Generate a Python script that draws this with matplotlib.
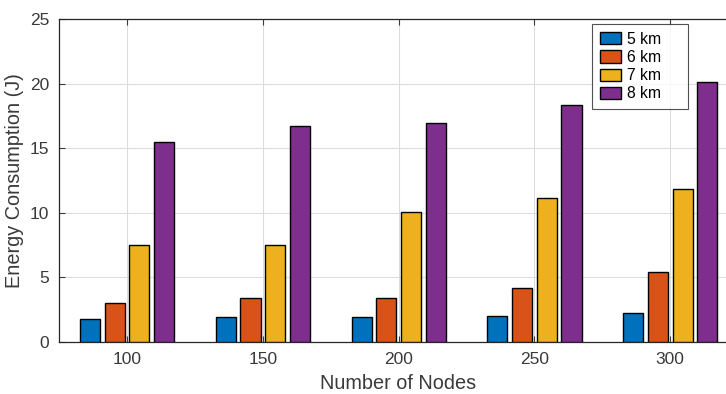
import numpy as np
import matplotlib
matplotlib.use("Agg")
import matplotlib.pyplot as plt

# Bar chart data
nodes = ["100", "150", "200", "250", "300"]
series_labels = ["5 km", "6 km", "7 km", "8 km"]
e_5km = [1.8, 1.93, 1.96, 2.04, 2.22]
e_6km = [3.03, 3.38, 3.4, 4.15, 5.42]
e_7km = [7.5, 7.52, 10.1, 11.12, 11.88]
e_8km = [15.5, 16.7, 16.93, 18.32, 20.15]

colors = ["#0072BD", "#D95319", "#EDB120", "#7E2F8E"]

plt.rcParams["font.family"] = ["Liberation Sans", "DejaVu Sans"]

fig = plt.figure(figsize=(7.26, 3.94), dpi=100)
ax = fig.add_axes([59 / 726, 52 / 394, 679 / 726, 323 / 394])

x = np.arange(1, len(nodes) + 1)
offsets = [-0.272, -0.09, 0.092, 0.274]
width = 0.148
for vals, off, c, lab in zip([e_5km, e_6km, e_7km, e_8km], offsets, colors, series_labels):
    ax.bar(x + off, vals, width=width, color=c, edgecolor="black",
           linewidth=1.0, label=lab, zorder=3)

ax.set_xlim(0.5, 5.5)
ax.set_ylim(0, 25)
ax.set_xticks(x)
ax.set_xticklabels(nodes)
ax.set_yticks(np.arange(0, 26, 5))

ax.grid(True, color="#dcdcdc", linewidth=0.8, zorder=0)
ax.tick_params(direction="in", length=4, width=0.8, top=True, right=True,
               labelsize=12.5, colors="#3a3a3a", pad=7)
for s in ax.spines.values():
    s.set_color("#262626")
    s.set_linewidth(0.9)

ax.set_xlabel("Number of Nodes", fontsize=14.3, color="#3a3a3a", labelpad=5)
ax.set_ylabel("Energy Consumption (J)", fontsize=14.3, color="#3a3a3a", labelpad=4)

# legend box in the reference: x 592..688, y 24..108 (pixels)
leg = ax.legend(loc="upper left",
                bbox_to_anchor=((592 - 59) / 679, (342 - 24) / 323 - 0.01, 96 / 679, 0.01),
                mode="expand", fontsize=11.3, frameon=True, fancybox=False,
                edgecolor="#262626", handlelength=1.34, handleheight=0.81,
                handletextpad=0.38, borderpad=0.5, labelspacing=0.2,
                borderaxespad=0)
leg.get_frame().set_linewidth(0.8)

fig.savefig("out.png", dpi=100)
